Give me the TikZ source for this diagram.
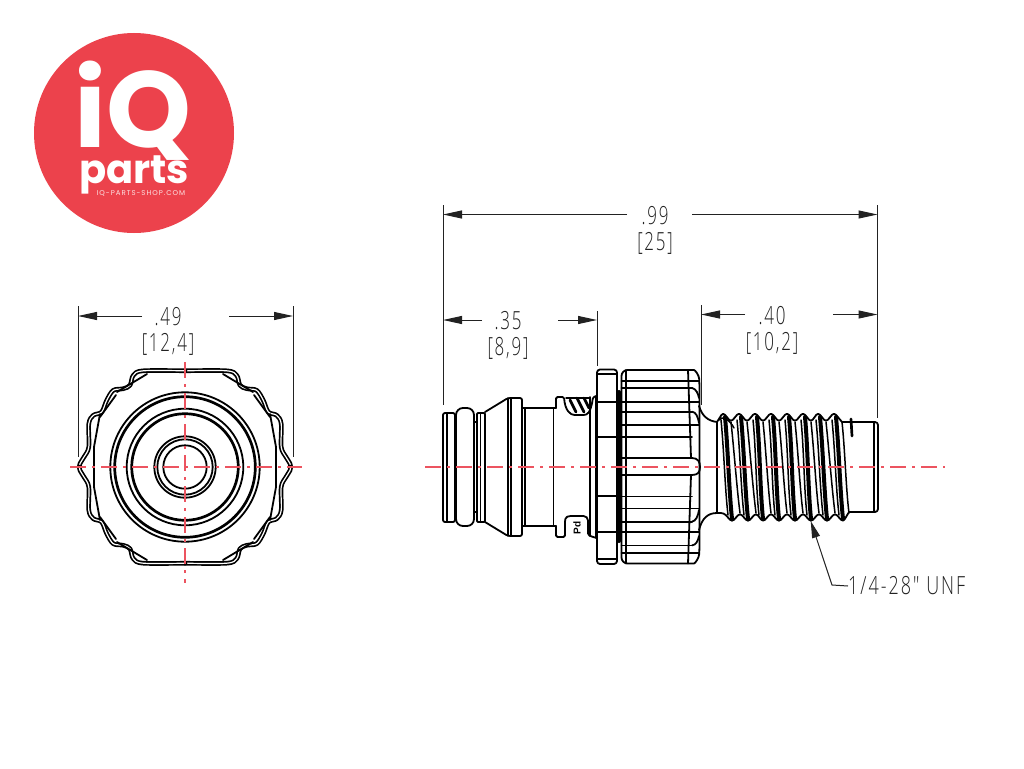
\documentclass[tikz,border=0pt]{standalone}
\usepackage{fontspec}
\usetikzlibrary{arrows.meta}
\setmainfont{Liberation Sans}
\newfontfamily\dimfont[FakeStretch=0.68,LetterSpace=7]{Open Sans Light}
\newfontfamily\unffont[FakeStretch=0.72,LetterSpace=8]{Open Sans Light}
\newfontfamily\logofont{Poppins}
\definecolor{logored}{HTML}{EC424C}
\definecolor{centerred}{RGB}{236,84,96}
\definecolor{dimgrey}{HTML}{222222}
\tikzset{
  part/.style={black,line width=1.8pt,line join=round,line cap=round},
  heavy/.style={black,line width=2.7pt,line cap=round},
  band/.style={black,line width=4pt,line cap=round},
  thin part/.style={black,line width=1.5pt,line cap=round},
  centerline/.style={draw=centerred,line width=1.1pt,dash pattern=on 16pt off 6pt on 3pt off 6pt},
  dimline/.style={dimgrey,line width=1pt},
  dimarrow/.style={dimline,-{Triangle[length=19pt,width=8pt]}},
  dimtext/.style={text=dimgrey,font=\dimfont\fontsize{25}{25}\selectfont,inner sep=0pt},
  lobe/.style={black,line width=1.7pt,line join=round,line cap=round,double=white,double distance=1.2pt}
}
\begin{document}
\begin{tikzpicture}[x=1pt,y=-1pt]
\useasboundingbox (0,0) rectangle (1024,768);
\fill[white] (0,0) rectangle (1024,768);
% logo
\fill[logored] (134,133) circle (100);
\node[anchor=base west,inner sep=0pt,text=white,font=\logofont\bfseries\fontsize{108}{108}\selectfont] (logoiq) at (74,147) {iQ};
\node[anchor=base west,inner sep=0pt,text=white,font=\logofont\bfseries\fontsize{40}{40}\selectfont] (logoparts) at (79,183) {parts};
\node[anchor=center,inner sep=0pt,text=white!85!logored,font=\logofont\fontsize{7}{7}\selectfont] (logoshop) at (141,193.5) {\addfontfeature{LetterSpace=14}IQ-PARTS-SHOP.COM};

% ---------- front view
\foreach \sx/\sy in {1/1,-1/1,1/-1,-1/-1}{
  \begin{scope}[shift={(185,467)},xscale=\sx,yscale=\sy]
    \draw[lobe] plot[smooth,tension=.55] coordinates {(0,-96.2) (41.7,-96.2) (51.7,-91.7) (55,-81.7) (61.7,-78.3) (71.7,-76.7) (78.3,-66.7) (83.3,-55) (91.7,-51.7) (96.2,-43.3) (96.2,-20) (101,-10) (105,-3.5) (105.5,0)};
    \draw[part] (38,-93) -- (68,-75) (85,-53) -- (91,-20) -- (91,0);
    \draw[part] (69,-72) -- (85,-50);
  \end{scope}
}
\draw[part] (185,467) circle (74.7);
\draw[heavy] (185,467) circle (70.3);
\draw[part] (185,467) circle (58.3);
\draw[heavy] (185,467) circle (53.3);
\draw[part] (185,467) circle (30.7);
\draw[part] (185,467) circle (27.7);
\draw[part] (185,467) circle (21.7);
\coordinate (fhL) at (70,467); \coordinate (fhR) at (302,467);
\coordinate (fvT) at (185,362); \coordinate (fvB) at (185,583);
\draw[centerline] (fhL) -- (fhR);
\draw[centerline] (fvT) -- (fvB);

% ---------- side view
\draw[part,rounded corners=2pt] (443,413) rectangle (455,522);
\draw[part] (447,413) -- (447,522);
\draw[part,rounded corners=7pt] (456,408) rectangle (474,526);
\draw[part] (474,422) -- (477,422) (474,512) -- (477,512);
\draw[part,rounded corners=1pt] (477,413) rectangle (485,522);
\draw[part] (480.5,413) -- (480.5,522);
\draw[part,rounded corners=2pt] (485,412) -- (508,398) -- (522,398) -- (522,536) -- (508,536) -- (485,522);
\draw[part] (508,398) -- (508,536);
\draw[part] (511,398) -- (511,536);
\draw[part] (525,408) -- (525,526);
\draw[part] (522,408) -- (556,408) (522,526) -- (556,526);
% body with windows
\draw[part,rounded corners=1.5pt] (556,408) -- (556,397) -- (564,397) .. controls (565,410) and (570,415) .. (576,415) -- (585,415) .. controls (590,413) and (592,405) .. (593,397) -- (597,396);
\draw[part,rounded corners=1.5pt] (556,526) -- (556,537) -- (565,537) -- (565,520) .. controls (566,517) and (568,516) .. (572,516) -- (582,516) .. controls (586,516) and (588,518) .. (588,522) -- (588,535) -- (593,537) -- (597,538);
\draw[part] (553.5,408) -- (553.5,526);
\draw[part] (590,397) -- (590,536);
\draw[part] (596,396) -- (596,538);
\draw[heavy] (570,400) -- (576,412) (577,398) -- (584,412) (584,398) -- (589,408);
\draw[thin part] (566,398) -- (590,398);
\node[rotate=90,inner sep=0pt,font=\bfseries\fontsize{10}{10}\selectfont] (pdmark) at (577,528) {Pd};
% hex
\draw[part,rounded corners=3pt] (597,369.5) rectangle (617,564);
\draw[part] (597,374) -- (617,374) (597,559) -- (617,559);
\draw[part] (597,402) -- (617,402) (597,437) -- (617,437) (597,496) -- (617,496) (597,532) -- (617,532);
\draw[band] (619,392) -- (619,541);
% knob
\draw[part,rounded corners=6pt] (621.5,370) -- (621.5,563.5) -- (688,563.5) .. controls (695,563.5) and (699,558) .. (699.5,548) -- (699.5,385) .. controls (699,375) and (695,370) .. (688,370) -- cycle;
\draw[part] (626,370) -- (626,563.5);
\draw[part] (688,370) -- (691,458) (691,475) -- (688,563.5);
\foreach \ya/\yb in {380.7/388,401.7/411.7,425/437,458/475,496.4/508.4,521.7/531.7,545.4/552.7}{
  \draw[part] (621.5,\ya) -- (692,\ya) (621.5,\yb) -- (692,\yb);
}
\draw[part] (692,380.7) -- (699,380.7) (692,401.7) -- (699,401.7) (692,425) -- (699,425) (692,508.4) -- (699,508.4) (692,531.7) -- (699,531.7) (692,552.7) -- (699,552.7);
\draw[part] (692,388) .. controls (696,389) and (698,393) .. (699,398);
\draw[part] (692,411.7) .. controls (696,412) and (698,417) .. (699,423);
\draw[part] (692,545.4) .. controls (696,545) and (698,541) .. (699,536);
\draw[part] (692,521.7) .. controls (696,521) and (698,516) .. (699,510);
\draw[part] (692,458) .. controls (698,458) and (700,462) .. (700,467) .. controls (700,472) and (698,475) .. (692,475);
% neck to thread
\draw[part] (699,406) .. controls (702,416) and (708,421) .. (717,422);
\draw[part] (699,530) .. controls (702,518) and (708,513) .. (717,513);
\draw[part] (717,422) -- (717,513);
% thread outlines
\draw[part,rounded corners=3pt] (717,422) -- (723,412.5) -- (731,422) -- (739,412.5) -- (747,422) -- (755,412.5) -- (763,422) -- (771,412.5) -- (779,422) -- (787,412.5) -- (795,422) -- (803,412.5) -- (811,422) -- (818,412.5) -- (826,422) -- (834,412.5) -- (842,422);
\draw[part,rounded corners=3pt] (717,513) -- (724,513) -- (732,522) -- (740,513) -- (748,522) -- (756,513) -- (763,522) -- (771,513) -- (779,522) -- (787,513) -- (795,522) -- (803,513) -- (811,522) -- (819,513) -- (827,522) -- (835,513) -- (843,522) -- (849,512);
\foreach \t/\b in {723/732,739/748,755/763,771/779,787/795,803/811,818/827,834/843}{
  \draw[band] (\t+2,417) .. controls (\t+5,450) and (\b-3,490) .. (\b,519);
  \draw[thin part] (\t-2,420) .. controls (\t+1,450) and (\b-7,490) .. (\b-4,515);
}
\foreach \t/\b in {731/740,747/756,763/771,779/787,795/803,811/819,826/835,842/849}{
  \draw[thin part] (\t,422) .. controls (\t+3,450) and (\b-3,490) .. (\b,513);
}
\draw[thin part] (719,420) .. controls (722,415) and (730,420) .. (734,428);
% plain end
\draw[part,rounded corners=3pt] (842,422) -- (878,422) -- (878,512) -- (849,512);
\draw[part] (874,422) -- (874,512);
\draw[heavy] (851,419) -- (852,436);
\coordinate (shL) at (425,467); \coordinate (shR) at (945,467);
\draw[centerline] (shL) -- (shR);

% ---------- dimensions
% .49
\coordinate (a1) at (78,316); \coordinate (a2) at (142,316); \coordinate (a3) at (229,316); \coordinate (a4) at (293,316);
\coordinate (ae1) at (78,306); \coordinate (ae2) at (78,457); \coordinate (ae3) at (293,306); \coordinate (ae4) at (293,457);
\draw[dimline] (ae1) -- (ae2); \draw[dimline] (ae3) -- (ae4);
\draw[dimarrow] (a2) -- (a1); \draw[dimarrow] (a3) -- (a4);
\node[dimtext] (t49) at (168,317) {.49};
\node[dimtext] (t124) at (168,344) {[12,4]};
% .99
\coordinate (b1) at (443,214.5); \coordinate (b2) at (627,214.5); \coordinate (b3) at (692,214.5); \coordinate (b4) at (877.5,214.5);
\coordinate (be1) at (443,205); \coordinate (be2) at (443,405); \coordinate (be3) at (877.5,205); \coordinate (be4) at (877.5,418);
\draw[dimline] (be1) -- (be2); \draw[dimline] (be3) -- (be4);
\draw[dimarrow] (b2) -- (b1); \draw[dimarrow] (b3) -- (b4);
\node[dimtext] (t99) at (655,216) {.99};
\node[dimtext] (t25) at (655,243) {[25]};
% .35
\coordinate (c1) at (443,320); \coordinate (c2) at (482,320); \coordinate (c3) at (558,320); \coordinate (c4) at (597,320);
\coordinate (ce3) at (597,311); \coordinate (ce4) at (597,366);
\draw[dimline] (ce3) -- (ce4);
\draw[dimarrow] (c2) -- (c1); \draw[dimarrow] (c3) -- (c4);
\node[dimtext] (t35) at (508,321) {.35};
\node[dimtext] (t89) at (508,348) {[8,9]};
% .40
\coordinate (d1) at (701,314.5); \coordinate (d2) at (745,314.5); \coordinate (d3) at (833,314.5); \coordinate (d4) at (877.5,314.5);
\coordinate (de1) at (701,305); \coordinate (de2) at (701,405);
\draw[dimline] (de1) -- (de2);
\draw[dimarrow] (d2) -- (d1); \draw[dimarrow] (d3) -- (d4);
\node[dimtext] (t40) at (772,316) {.40};
\node[dimtext] (t102) at (772,343) {[10,2]};
% thread callout
\node[text=dimgrey,font=\unffont\fontsize{25}{25}\selectfont,inner sep=0pt,anchor=west] (tunf) at (848,586) {1/4-28" UNF};
\coordinate (lk) at (832,585); \coordinate (lt) at (810.7,521);
\draw[dimline,-{Triangle[length=17pt,width=8pt]}] (tunf.west) -- (lk) -- (lt);
\end{tikzpicture}
\end{document}
